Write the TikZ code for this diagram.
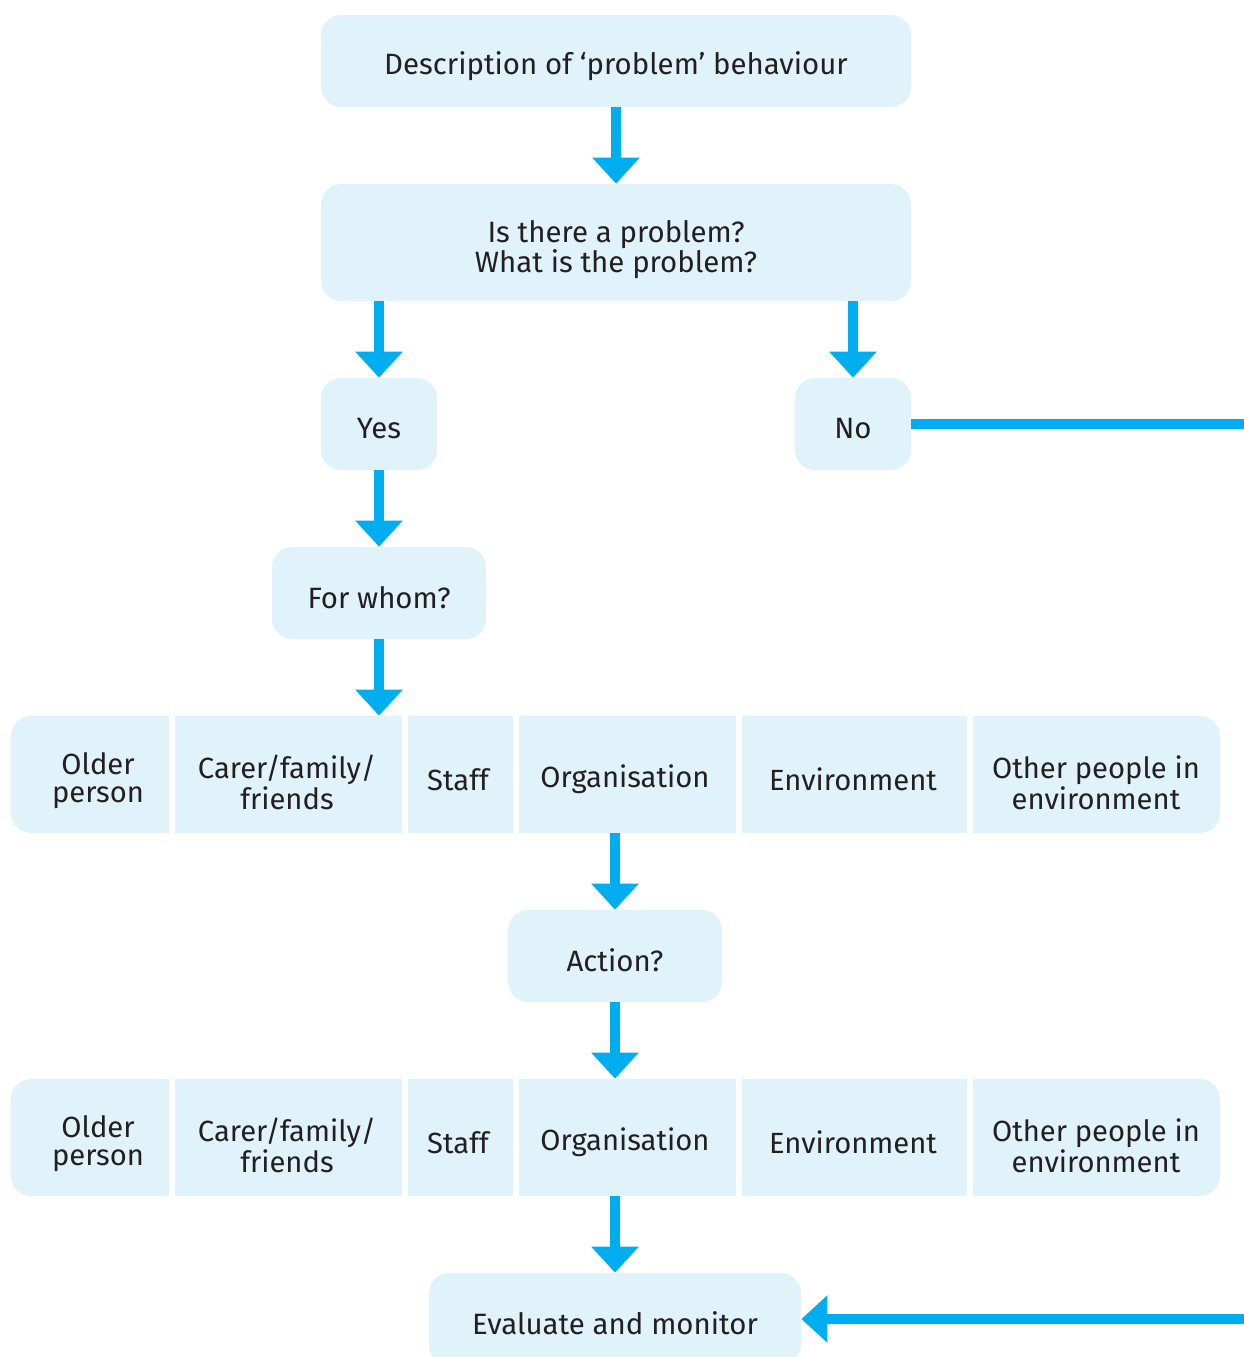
\documentclass[tikz,border=0pt]{standalone}
\usepackage{fontspec}
\setmainfont[Ligatures=NoCommon]{Fira Sans}
\usetikzlibrary{arrows.meta}
\definecolor{boxfill}{HTML}{E0F2FA}
\definecolor{arrowblue}{HTML}{00AEEF}
\definecolor{txt}{HTML}{231F20}
\tikzset{
  box/.style={fill=boxfill, rounded corners=10pt, inner sep=0pt},
  boxtext/.style={inner sep=0pt, align=center, text=txt,
    font=\fontsize{14.7}{15}\selectfont},
  celltext/.style={inner sep=0pt, align=center, text=txt, font=\fontsize{14.6}{14.2}\selectfont},
  flow/.style={draw=arrowblue, line width=5pt, -{Triangle[width=23pt,length=13pt]}},
  flowline/.style={draw=arrowblue, line width=5pt},
  gap/.style={fill=white, draw=none, inner sep=0pt, minimum width=3pt, minimum height=59pt}
}
\begin{document}
\begin{tikzpicture}[x=0.5pt,y=-0.5pt]
\clip (0,0) rectangle (1244,1357);
\useasboundingbox (0,0) rectangle (1244,1357);

\node[box, minimum width=295pt, minimum height=46pt] (desc) at (616,61) {};
\node[box, minimum width=295pt, minimum height=58.5pt] (q) at (616,242.5) {};
\node[box, minimum width=58pt, minimum height=46pt] (yes) at (379,424) {};
\node[box, minimum width=58pt, minimum height=46pt] (no) at (853,424) {};
\node[box, minimum width=107pt, minimum height=46pt] (whom) at (379,593) {};
\node[box, minimum width=604.5pt, minimum height=58.5pt] (row1) at (615.5,774.5) {};
\node[box, minimum width=107pt, minimum height=46pt] (action) at (615,956) {};
\node[box, minimum width=604.5pt, minimum height=58.5pt] (row2) at (615.5,1137.5) {};
\node[box, minimum width=186pt, minimum height=46pt] (eval) at (615,1319) {};

\node[boxtext, yshift=-2.5pt] (desc-t) at (desc.center) {Description of ‘problem’ behaviour};
\node[boxtext, yshift=-3.3pt] (q-t) at (q.center) {Is there a problem?\\What is the problem?};
\node[boxtext, yshift=-2.3pt] (yes-t) at (yes.center) {Yes};
\node[boxtext, yshift=-2.3pt] (no-t) at (no.center) {No};
\node[boxtext, yshift=-2.3pt] (whom-t) at (whom.center) {For whom?};
\node[boxtext, yshift=-2.3pt] (action-t) at (action.center) {Action?};
\node[boxtext, yshift=-2.3pt] (eval-t) at (eval.center) {Evaluate and monitor};

% cell separators and texts
\foreach \r/\y in {1/774.5, 2/1137.5} {
  \foreach \gx [count=\i] in {172,405,516,739,970} {
    \node[gap] (g\r\i) at (\gx,\y) {};
  }
  \node[celltext, yshift=-3pt] (c\r1) at (98,\y) {Older\\person};
  \node[celltext, yshift=-4pt] (c\r2) at (287,\y) {Carer/family/\\friends};
  \node[celltext, yshift=-2.5pt] (c\r3) at (458,\y) {Staff};
  \node[celltext, yshift=-2.5pt] (c\r4) at (625,\y) {Organisation};
  \node[celltext, yshift=-2.5pt] (c\r5) at (853,\y) {Environment};
  \node[celltext, yshift=-4pt] (c\r6) at (1096,\y) {Other people in\\environment};
}

\coordinate (noend) at (1250,424);
\coordinate (evalstart) at (1250,1319);

\draw[flow] (desc) -- (q);
\draw[flow] (q.south -| yes.north) -- (yes.north);
\draw[flow] (q.south -| no.north) -- (no.north);
\draw[flow] (yes) -- (whom);
\draw[flow] (whom.south) -- (whom.south |- row1.north);
\draw[flow] (row1.south -| action.north) -- (action.north);
\draw[flow] (action.south) -- (action.south |- row2.north);
\draw[flow] (row2.south -| eval.north) -- (eval.north);
\draw[flowline] (no.east) -- (noend);
\draw[flow] (evalstart) -- (eval.east);
\end{tikzpicture}
\end{document}
